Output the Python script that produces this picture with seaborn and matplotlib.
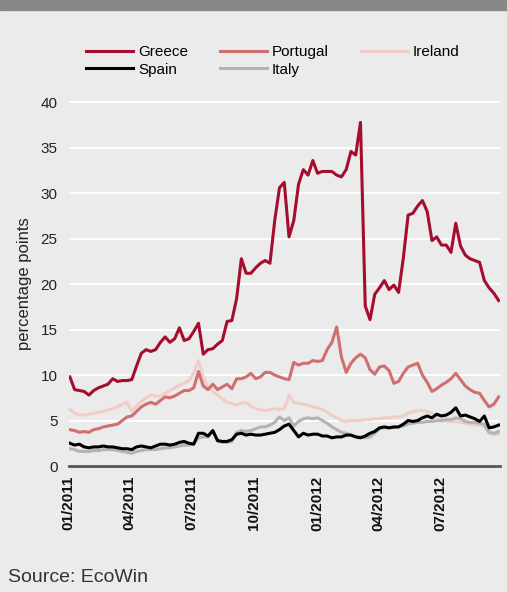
import matplotlib
matplotlib.use('Agg')
import matplotlib.pyplot as plt
import matplotlib.dates as mdates
import pandas as pd
import seaborn as sns

# weekly observations, spreads in percentage points
dates = pd.date_range('2011-01-03', periods=91, freq='7D')

greece = [9.8, 8.4, 8.3, 8.2, 7.8, 8.3, 8.6, 8.8, 9.0, 9.6,
          9.3, 9.4, 9.4, 9.5, 11.0, 12.4, 12.8, 12.6, 12.8, 13.6,
          14.2, 13.6, 14.0, 15.2, 13.8, 14.0, 14.8, 15.7, 12.3, 12.8,
          12.9, 13.4, 13.8, 15.9, 16.0, 18.4, 22.8, 21.2, 21.2, 21.8,
          22.3, 22.6, 22.3, 27.0, 30.6, 31.2, 25.2, 27.0, 31.0, 32.6,
          32.0, 33.6, 32.2, 32.4, 32.4, 32.4, 32.0, 31.8, 32.6, 34.6,
          34.2, 37.8, 17.6, 16.1, 18.9, 19.6, 20.4, 19.4, 19.9, 19.1,
          22.9, 27.6, 27.8, 28.6, 29.2, 28.0, 24.8, 25.2, 24.3, 24.3,
          23.5, 26.7, 24.2, 23.2, 22.8, 22.6, 22.4, 20.4, 19.6, 19.0,
          18.2]

portugal = [4.0, 3.9, 3.7, 3.8, 3.7, 4.0, 4.1, 4.3, 4.4, 4.5,
            4.6, 5.0, 5.4, 5.5, 6.0, 6.5, 6.8, 7.0, 6.8, 7.2,
            7.6, 7.5, 7.7, 8.0, 8.3, 8.3, 8.6, 10.4, 8.8, 8.4,
            9.0, 8.4, 8.7, 9.0, 8.5, 9.6, 9.6, 9.8, 10.2, 9.6,
            9.8, 10.3, 10.3, 10.0, 9.8, 9.6, 9.5, 11.4, 11.1, 11.3,
            11.3, 11.6, 11.5, 11.6, 12.8, 13.6, 15.3, 12.0, 10.3, 11.3,
            11.9, 12.3, 11.9, 10.6, 10.1, 10.9, 11.0, 10.5, 9.1, 9.3,
            10.2, 10.9, 11.1, 11.3, 10.0, 9.2, 8.2, 8.5, 8.9, 9.2,
            9.6, 10.2, 9.5, 8.8, 8.4, 8.1, 8.0, 7.2, 6.5, 6.8,
            7.6]

ireland = [6.2, 5.8, 5.6, 5.6, 5.7, 5.8, 5.9, 6.0, 6.2, 6.3,
           6.5, 6.8, 7.0, 6.0, 6.6, 7.1, 7.5, 7.8, 7.7, 7.7,
           8.0, 8.3, 8.6, 8.9, 9.1, 9.4, 10.2, 11.6, 9.8, 8.7,
           8.2, 7.8, 7.4, 7.0, 6.9, 6.7, 6.9, 7.0, 6.6, 6.3,
           6.2, 6.1, 6.2, 6.3, 6.2, 6.3, 7.8, 7.0, 6.9, 6.8,
           6.7, 6.5, 6.4, 6.2, 5.9, 5.6, 5.3, 5.0, 4.9, 5.0,
           5.0, 5.0, 5.1, 5.1, 5.2, 5.2, 5.3, 5.3, 5.4, 5.4,
           5.5, 5.8, 6.0, 6.1, 6.1, 6.0, 5.8, 5.4, 5.0, 5.0,
           4.9, 4.9, 4.8, 4.7, 4.6, 4.5, 4.5, 4.3, 3.6, 3.4,
           3.5]

spain = [2.5, 2.3, 2.4, 2.1, 2.0, 2.1, 2.1, 2.2, 2.1, 2.1,
         2.0, 1.9, 1.9, 1.8, 2.1, 2.2, 2.1, 2.0, 2.2, 2.4,
         2.4, 2.3, 2.4, 2.6, 2.7, 2.5, 2.4, 3.6, 3.6, 3.3,
         3.9, 2.8, 2.7, 2.7, 2.9, 3.5, 3.6, 3.4, 3.5, 3.4,
         3.4, 3.5, 3.6, 3.7, 4.0, 4.4, 4.6, 3.9, 3.2, 3.6,
         3.4, 3.5, 3.5, 3.3, 3.3, 3.1, 3.2, 3.2, 3.4, 3.4,
         3.2, 3.1, 3.3, 3.6, 3.8, 4.2, 4.3, 4.2, 4.3, 4.3,
         4.6, 5.0, 4.9, 5.0, 5.3, 5.5, 5.3, 5.7, 5.5, 5.6,
         5.9, 6.4, 5.5, 5.6, 5.4, 5.2, 4.9, 5.5, 4.2, 4.3,
         4.5]

italy = [1.9, 1.8, 1.6, 1.6, 1.6, 1.7, 1.7, 1.8, 1.8, 1.8,
         1.7, 1.6, 1.5, 1.4, 1.6, 1.7, 1.8, 1.8, 1.8, 1.9,
         2.0, 2.0, 2.1, 2.2, 2.3, 2.3, 2.5, 3.1, 3.2, 3.2,
         3.9, 2.7, 2.6, 2.6, 2.7, 3.7, 3.9, 3.8, 3.9, 4.1,
         4.3, 4.3, 4.5, 4.8, 5.4, 5.0, 5.3, 4.4, 4.9, 5.2,
         5.3, 5.2, 5.3, 5.0, 4.7, 4.3, 4.0, 3.7, 3.6, 3.4,
         3.2, 3.2, 3.1, 3.2, 3.6, 4.1, 4.2, 4.2, 4.2, 4.3,
         4.4, 4.6, 4.7, 4.8, 4.8, 4.9, 4.9, 5.0, 5.0, 5.1,
         5.1, 5.3, 5.2, 4.9, 4.8, 4.8, 4.7, 4.6, 3.7, 3.6,
         3.8]

tick_dates = pd.to_datetime(['2011-01-01', '2011-04-01', '2011-07-01', '2011-10-01',
                             '2012-01-01', '2012-04-01', '2012-07-01'])

bg = '#ebebeb'
plt.rcParams['font.family'] = ['Liberation Sans', 'DejaVu Sans']

fig = plt.figure(figsize=(5.07, 5.92), dpi=100, facecolor=bg)
ax = fig.add_axes([68.5 / 507, 1 - 466 / 592, (500 - 68.5) / 507, 365 / 592])
ax.set_facecolor(bg)

# header bar
fig.patches.append(plt.Rectangle((0, 1 - 10 / 592), 1, 10 / 592, transform=fig.transFigure,
                                 color='#878787', zorder=0))

series = [('Ireland', ireland, '#f2cdc8'),
          ('Italy', italy, '#b3b3b3'),
          ('Spain', spain, '#000000'),
          ('Portugal', portugal, '#cf7070'),
          ('Greece', greece, '#a50d2f')]
for name, vals, col in series:
    sns.lineplot(x=dates, y=vals, ax=ax, color=col, linewidth=2.2, label=name)

ax.set_ylim(0, 40.15)
ax.set_xlim(pd.Timestamp('2011-01-01'), pd.Timestamp('2012-09-26'))
ax.set_yticks(range(0, 41, 5))
ax.yaxis.grid(True, color='white', linewidth=1.4)
ax.xaxis.grid(False)
ax.set_axisbelow(True)
for s in ['top', 'right', 'left']:
    ax.spines[s].set_visible(False)
ax.spines['bottom'].set_color('#555555')
ax.spines['bottom'].set_linewidth(2)

ax.set_xticks(tick_dates)
ax.xaxis.set_major_formatter(mdates.DateFormatter('%m/%Y'))
ax.tick_params(axis='x', length=0, pad=7, labelsize=11, labelcolor='#111111')
ax.tick_params(axis='y', length=0, pad=8, labelsize=11, labelcolor='#222222')
for lab in ax.get_xticklabels():
    lab.set_rotation(90)
    lab.set_fontweight('bold')

ax.set_ylabel('percentage points', fontsize=12, color='#222222', labelpad=6)
ax.set_xlabel('')

handles, labels = ax.get_legend_handles_labels()
lookup = dict(zip(labels, handles))
order = ['Greece', 'Spain', 'Portugal', 'Italy', 'Ireland']
ax.legend_.remove()
fig.legend([lookup[k] for k in order], order, loc='upper left',
           bbox_to_anchor=(86 / 507, 1 - 45 / 592), ncol=3, frameon=False,
           fontsize=11, handlelength=3.1, handletextpad=0.3, columnspacing=2.1,
           labelspacing=0.25, borderpad=0, borderaxespad=0)

fig.text(8 / 507, 1 - 577 / 592, 'Source: EcoWin', fontsize=14, color='#333333',
         va='center', ha='left')

fig.savefig('out.png', dpi=100, facecolor=bg)
